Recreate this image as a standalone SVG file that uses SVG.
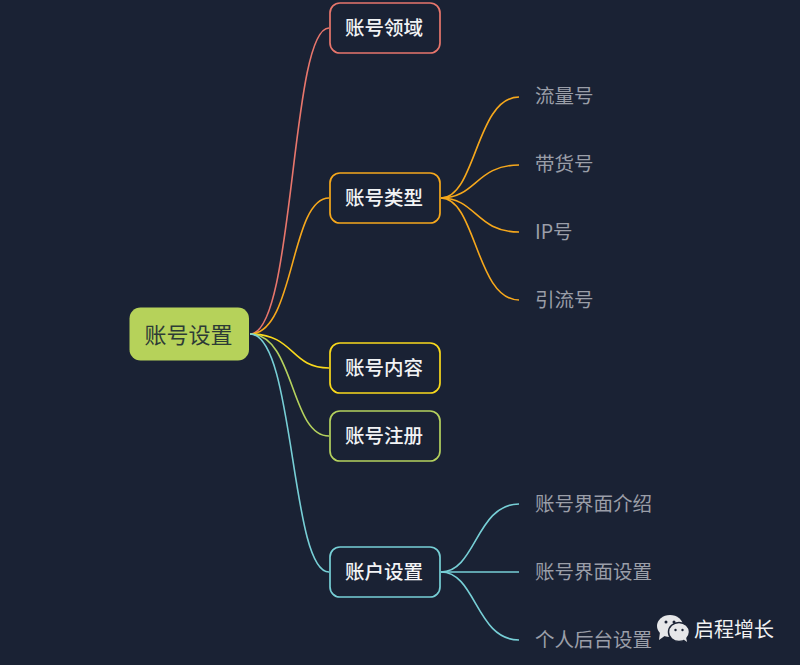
<svg xmlns="http://www.w3.org/2000/svg" width="800" height="665" viewBox="0 0 800 665">
<style>
text{font-family:"Noto Sans CJK SC","Liberation Sans",sans-serif;dominant-baseline:central}
.n{fill:#1a2234;stroke-width:1.700}
.t{font-size:19.500px;fill:#f2f3f5;text-anchor:middle;font-weight:500}
.l{font-size:19.500px;fill:#9a9ea8}
.c{fill:none;stroke-width:1.600}
</style>
<rect width="800" height="665" fill="#1a2234"/>
<g id="connectors">
<g class="c" stroke="#e8766c"><path d="M250 334C295 334 290 28 329 28"/></g>
<g class="c" stroke="#f6a81c">
<path d="M250 334C295 334 290 198 329 198"/>
<path d="M441 198C476 198 476 97 519 97"/>
<path d="M441 198C476 198 476 165 519 165"/>
<path d="M441 198C476 198 476 232 519 232"/>
<path d="M441 198C476 198 476 300 519 300"/>
</g>
<path class="c" stroke="#f9d91c" d="M250 334C295 334 290 368 329 368"/>
<path class="c" stroke="#b5d25e" d="M250 334C295 334 290 436 329 436"/>
<g class="c" stroke="#77cfd6">
<path d="M250 334C295 334 290 572 329 572"/>
<path d="M441 572C476 572 476 504 519 504"/>
<path d="M441 572H519"/>
<path d="M441 572C476 572 476 640 519 640"/>
</g>
</g>
<g id="root"><rect x="129.500" y="307.500" width="119.500" height="53" rx="11" fill="#b6d25a"/><text x="188.500" y="332.500" font-size="22" fill="#2d3b36" text-anchor="middle">账号设置</text></g>
<g id="n1"><rect class="n" x="330" y="3" width="110" height="50" rx="10" stroke="#e8766c"/><text class="t" x="384" y="26.500">账号领域</text></g>
<g id="n2"><rect class="n" x="330" y="173" width="110" height="50" rx="10" stroke="#f6a81c"/><text class="t" x="384" y="196.500">账号类型</text></g>
<g id="n3"><rect class="n" x="330" y="343" width="110" height="50" rx="10" stroke="#f9d91c"/><text class="t" x="384" y="366.500">账号内容</text></g>
<g id="n4"><rect class="n" x="330" y="411" width="110" height="50" rx="10" stroke="#b5d25e"/><text class="t" x="384" y="434.500">账号注册</text></g>
<g id="n5"><rect class="n" x="330" y="547" width="110" height="50" rx="10" stroke="#77cfd6"/><text class="t" x="384" y="570.500">账户设置</text></g>
<g id="l1"><text class="l" x="535" y="94.500">流量号</text></g>
<g id="l2"><text class="l" x="535" y="162.500">带货号</text></g>
<g id="l3"><text class="l" x="535" y="230.500">IP号</text></g>
<g id="l4"><text class="l" x="535" y="298.500">引流号</text></g>
<g id="l5"><text class="l" x="535" y="502.500">账号界面介绍</text></g>
<g id="l6"><text class="l" x="535" y="570.500">账号界面设置</text></g>
<g id="l7"><text class="l" x="535" y="638.500">个人后台设置</text></g>
<g id="watermark">
<ellipse cx="670" cy="626" rx="13" ry="11" fill="#e6e7e9"/><path d="M660 632l-1 8 7-5z" fill="#e6e7e9"/>
<ellipse cx="679" cy="632" rx="10.500" ry="9.500" fill="#e6e7e9" stroke="#1a2234" stroke-width="1.500"/><path d="M683 639l4 3-1-5z" fill="#e6e7e9"/>
<circle cx="666" cy="622" r="1.500" fill="#1a2234"/><circle cx="674" cy="622" r="1.500" fill="#1a2234"/><circle cx="675.500" cy="630" r="1.200" fill="#1a2234"/><circle cx="682.500" cy="630" r="1.200" fill="#1a2234"/>
<text x="694" y="628" font-size="20" fill="#f0f1f2">启程增长</text>
</g>
</svg>
